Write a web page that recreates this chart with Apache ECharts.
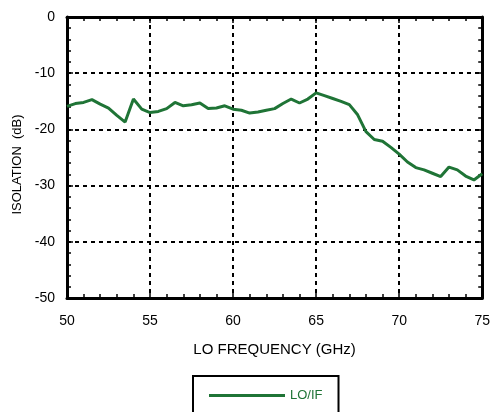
<!DOCTYPE html>
<html>
<head>
<meta charset="utf-8">
<script src="https://cdn.jsdelivr.net/npm/echarts@6/dist/echarts.min.js"></script>
<style>html,body{margin:0;padding:0;background:#fff;}#c{width:493px;height:412px;}</style>
</head>
<body>
<div id="c"></div>
<script>
const freq = [50,50.5,51,51.5,52,52.5,53,53.5,54,54.5,55,55.5,56,56.5,57,57.5,58,58.5,59,59.5,60,60.5,61,61.5,62,62.5,63,63.5,64,64.5,65,65.5,66,66.5,67,67.5,68,68.5,69,69.5,70,70.5,71,71.5,72,72.5,73,73.5,74,74.5,75];
const isolation = [-15.9,-15.4,-15.2,-14.7,-15.5,-16.2,-17.5,-18.7,-14.6,-16.4,-17.0,-16.8,-16.3,-15.2,-15.8,-15.6,-15.3,-16.3,-16.2,-15.8,-16.4,-16.6,-17.1,-16.9,-16.6,-16.3,-15.4,-14.6,-15.3,-14.6,-13.5,-14.0,-14.5,-15.0,-15.6,-17.4,-20.4,-21.8,-22.1,-23.2,-24.4,-25.8,-26.8,-27.2,-27.8,-28.4,-26.7,-27.2,-28.3,-29.0,-27.9];
const seriesName = 'LO/IF';
const xTitle = 'LO FREQUENCY (GHz)';
const yTitle = 'ISOLATION  (dB)';

const green = '#1f7436';
const font = 'Liberation Sans, Arial, Helvetica, sans-serif';
const chart = echarts.init(document.getElementById('c'));
const dash = {show:true, lineStyle:{color:'#000', width:2, type:[4,4]}};
const tick = {show:true, inside:true, length:6, lineStyle:{color:'#000', width:1.5}};
const minor = {show:true, splitNumber:5, length:4, lineStyle:{color:'#000', width:1.5}};
chart.setOption({
  animation:false,
  grid:{left:67, right:10, top:17, bottom:114, containLabel:false},
  xAxis:[
    {type:'value', min:50, max:75, interval:5, position:'bottom',
     axisLine:{show:true, onZero:false, lineStyle:{color:'#000', width:3}},
     axisTick:tick, minorTick:Object.assign({}, minor),
     splitLine:dash,
     axisLabel:{color:'#000', fontSize:14, fontFamily:font, margin:16},
     name:xTitle, nameLocation:'middle', nameGap:44,
     nameTextStyle:{color:'#000', fontSize:15, fontFamily:font}},
    {type:'value', min:50, max:75, interval:5, position:'top',
     axisLine:{show:true, onZero:false, lineStyle:{color:'#000', width:3}},
     axisTick:tick, minorTick:Object.assign({}, minor),
     splitLine:{show:false}, axisLabel:{show:false}}
  ],
  yAxis:[
    {type:'value', min:-50, max:0, interval:10, position:'left',
     axisLine:{show:true, onZero:false, lineStyle:{color:'#000', width:3}},
     axisTick:tick, minorTick:Object.assign({}, minor),
     splitLine:dash,
     axisLabel:{color:'#000', fontSize:14, fontFamily:font, margin:12},
     name:yTitle, nameLocation:'middle', nameGap:37, nameRotate:90,
     nameTextStyle:{color:'#000', fontSize:13, fontFamily:font, padding:[0,14,0,0]}},
    {type:'value', min:-50, max:0, interval:10, position:'right',
     axisLine:{show:true, onZero:false, lineStyle:{color:'#000', width:3}},
     axisTick:tick, minorTick:Object.assign({}, minor),
     splitLine:{show:false}, axisLabel:{show:false}}
  ],
  legend:{
    left:193, top:376, orient:'horizontal',
    borderColor:'#000', borderWidth:2, borderRadius:0,
    padding:[13, 16, 30, 16], itemWidth:76, itemHeight:3, itemGap:8,
    textStyle:{color:green, fontSize:13, fontFamily:font},
    data:[{name:seriesName, icon:'rect'}]
  },
  series:[{
    name:seriesName, type:'line', xAxisIndex:0, yAxisIndex:0,
    data:freq.map((f,i)=>[f, isolation[i]]),
    showSymbol:false, symbol:'none',
    lineStyle:{color:green, width:3},
    itemStyle:{color:green}
  }]
});
</script>
</body>
</html>
